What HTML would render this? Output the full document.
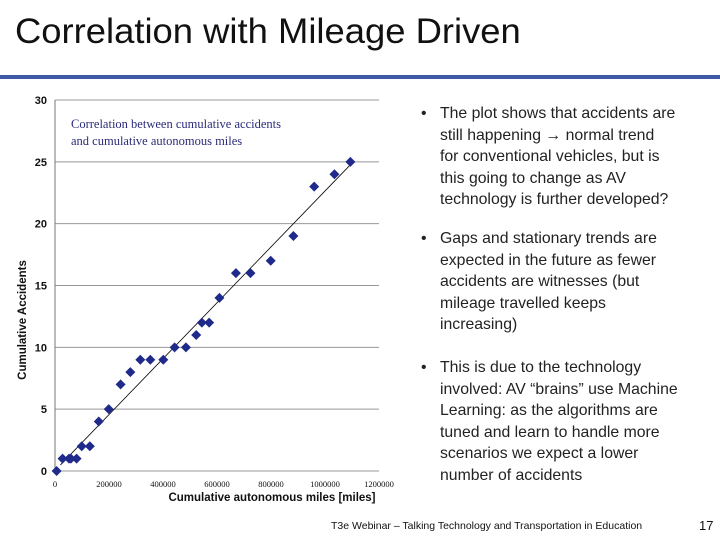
<!DOCTYPE html>
<html><head><meta charset="utf-8"><style>
body{margin:0;width:720px;height:540px;background:#fff;position:relative;overflow:hidden;font-family:"Liberation Sans",sans-serif}
.t{position:absolute;white-space:nowrap}
.b{position:absolute;left:440px;font-size:15.8px;line-height:21.6px;color:#222;white-space:nowrap}
.dot{position:absolute;left:-19px;top:0}
</style></head><body>
<div class="t" style="left:15px;top:12px;font-size:35px;color:#111;transform:scaleX(1.04);transform-origin:left">Correlation with Mileage Driven</div>
<div style="position:absolute;left:0;top:75px;width:720px;height:4px;background:#3f58a8"></div>
<svg id="c" width="720" height="540" style="position:absolute;left:0;top:0"></svg>
<div class="b" style="top:103px"><span class="dot">•</span>The plot shows that accidents are<br>still happening → normal trend<br>for conventional vehicles, but is<br>this going to change as AV<br>technology is further developed?</div>
<div class="b" style="top:228px"><span class="dot">•</span>Gaps and stationary trends are<br>expected in the future as fewer<br>accidents are witnesses (but<br>mileage travelled keeps<br>increasing)</div>
<div class="b" style="top:357px"><span class="dot">•</span>This is due to the technology<br>involved: AV “brains” use Machine<br>Learning: as the algorithms are<br>tuned and learn to handle more<br>scenarios we expect a lower<br>number of accidents</div>
<div class="t" style="left:331px;top:520px;font-size:10.5px;color:#111">T3e Webinar – Talking Technology and Transportation in Education</div>
<div class="t" style="left:699px;top:518px;font-size:13px;color:#111">17</div>
<script>
const xVals=[6000,28000,52000,59000,80000,99000,129000,162000,199000,243000,279000,316000,353000,401000,443000,485000,523000,544000,571000,609000,670000,724000,799000,883000,960000,1035000,1094000];
const yVals=[0,1,1,1,1,2,2,4,5,7,8,9,9,9,10,10,11,12,12,14,16,16,17,19,23,24,25];
const xTicks=[0,200000,400000,600000,800000,1000000,1200000];
const yTicks=[0,5,10,15,20,25,30];
const trendX=[20000,1100000];
const trendSlope=2.26e-5, trendIntercept=0.04;
const L=55,R=379,T=100,B=471;
const sx=v=>L+v/1200000*(R-L), sy=v=>B-v/30*(B-T);
const svg=document.getElementById('c'),NS='http://www.w3.org/2000/svg';
function mk(t,a,txt){const e=document.createElementNS(NS,t);for(const k in a)e.setAttribute(k,a[k]);if(txt!=null)e.textContent=txt;svg.appendChild(e);return e;}
yTicks.forEach(v=>{
 const g=mk('line',{x1:L,x2:R,y1:sy(v),y2:sy(v),stroke:'#999','stroke-width':1});
 
 
 const t=mk('text',{x:47,y:sy(v)+4,'text-anchor':'end','font-size':11,'font-weight':'bold',fill:'#111'},v);
 
 
});
const ax=mk('line',{x1:L,x2:L,y1:T,y2:B,stroke:'#777'});


xTicks.forEach(v=>{
 const t=mk('text',{x:sx(v),y:487,'text-anchor':'middle','font-size':8.5,'font-family':'Liberation Serif',fill:'#111'},v);
 
 
});
const xt=mk('text',{x:272,y:501,'text-anchor':'middle','font-size':11.5,'font-weight':'bold',fill:'#111'},'Cumulative autonomous miles [miles]');


const yt=mk('text',{x:0,y:0,'text-anchor':'middle','font-size':11.5,'font-weight':'bold',fill:'#111',transform:'translate(26,320) rotate(-90)'},'Cumulative Accidents');


const ct=mk('text',{x:71,y:128,'font-size':12.5,'font-family':'Liberation Serif',fill:'#2b2b7a'},'Correlation between cumulative accidents');


const ct2=mk('text',{x:71,y:145,'font-size':12.5,'font-family':'Liberation Serif',fill:'#2b2b7a'},'and cumulative autonomous miles');


const tl=mk('line',{x1:sx(trendX[0]),y1:sy(trendSlope*trendX[0]+trendIntercept),x2:sx(trendX[1]),y2:sy(trendSlope*trendX[1]+trendIntercept),stroke:'#000','stroke-width':0.8});


xVals.forEach((x,i)=>{
 const cx=sx(x),cy=sy(yVals[i]),r=5;
 const p=mk('polygon',{points:`${cx},${cy-r} ${cx+r},${cy} ${cx},${cy+r} ${cx-r},${cy}`,fill:'#1f2a8a'});
 
 
});
</script>
</body></html>
